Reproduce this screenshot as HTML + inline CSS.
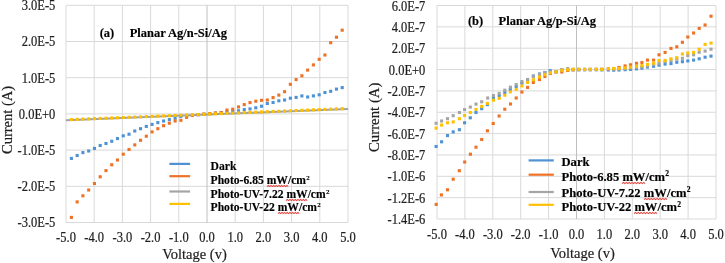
<!DOCTYPE html>
<html><head><meta charset="utf-8"><style>
html,body{margin:0;padding:0;background:#fff;}
body{width:725px;height:263px;position:relative;overflow:hidden;font-family:"Liberation Serif",serif;color:#000;filter:blur(0.3px);}
div{position:absolute;white-space:nowrap;line-height:0;}
.tk{color:#1e1e1e;-webkit-text-stroke:0.2px #1e1e1e;transform-origin:0 4.22px;transform:scaleY(1.1);}
.tk.c{transform:translateX(-50%) scaleY(1.1);}
.r{text-align:right;}
.c{transform:translateX(-50%);}
.ttl{font-weight:bold;-webkit-text-stroke:0.15px #000;}
.axt{color:#1e1e1e;-webkit-text-stroke:0.2px #1e1e1e;}
.rot{transform-origin:0 0;transform:rotate(-90deg);}
.leg{font-weight:bold;-webkit-text-stroke:0.15px #000;}
.leg sup{font-size:0.6em;vertical-align:0;position:relative;top:-0.6em;margin-left:0.3px;}
.sp{position:relative;}
.sq{position:absolute;left:0;width:100%;height:2px;top:calc(100% - 2px);overflow:visible;}
</style></head>
<body>
<svg width="725" height="263" viewBox="0 0 725 263" style="position:absolute;left:0;top:0"><line x1="66" y1="5.30" x2="348" y2="5.30" stroke="#D9D9D9" stroke-width="1"/><line x1="66" y1="41.50" x2="348" y2="41.50" stroke="#D9D9D9" stroke-width="1"/><line x1="66" y1="77.70" x2="348" y2="77.70" stroke="#D9D9D9" stroke-width="1"/><line x1="66" y1="113.90" x2="348" y2="113.90" stroke="#D9D9D9" stroke-width="1"/><line x1="66" y1="150.10" x2="348" y2="150.10" stroke="#D9D9D9" stroke-width="1"/><line x1="66" y1="186.30" x2="348" y2="186.30" stroke="#D9D9D9" stroke-width="1"/><line x1="66" y1="222.50" x2="348" y2="222.50" stroke="#D9D9D9" stroke-width="1"/><line x1="66.00" y1="5.3" x2="66.00" y2="222.5" stroke="#D9D9D9" stroke-width="1"/><line x1="94.20" y1="5.3" x2="94.20" y2="222.5" stroke="#D9D9D9" stroke-width="1"/><line x1="122.40" y1="5.3" x2="122.40" y2="222.5" stroke="#D9D9D9" stroke-width="1"/><line x1="150.60" y1="5.3" x2="150.60" y2="222.5" stroke="#D9D9D9" stroke-width="1"/><line x1="178.80" y1="5.3" x2="178.80" y2="222.5" stroke="#D9D9D9" stroke-width="1"/><line x1="207.00" y1="5.3" x2="207.00" y2="222.5" stroke="#BFBFBF" stroke-width="1"/><line x1="235.20" y1="5.3" x2="235.20" y2="222.5" stroke="#D9D9D9" stroke-width="1"/><line x1="263.40" y1="5.3" x2="263.40" y2="222.5" stroke="#D9D9D9" stroke-width="1"/><line x1="291.60" y1="5.3" x2="291.60" y2="222.5" stroke="#D9D9D9" stroke-width="1"/><line x1="319.80" y1="5.3" x2="319.80" y2="222.5" stroke="#D9D9D9" stroke-width="1"/><line x1="348.00" y1="5.3" x2="348.00" y2="222.5" stroke="#D9D9D9" stroke-width="1"/><line x1="437" y1="5.50" x2="716" y2="5.50" stroke="#D9D9D9" stroke-width="1"/><line x1="437" y1="26.85" x2="716" y2="26.85" stroke="#D9D9D9" stroke-width="1"/><line x1="437" y1="48.20" x2="716" y2="48.20" stroke="#D9D9D9" stroke-width="1"/><line x1="437" y1="69.55" x2="716" y2="69.55" stroke="#D9D9D9" stroke-width="1"/><line x1="437" y1="90.90" x2="716" y2="90.90" stroke="#D9D9D9" stroke-width="1"/><line x1="437" y1="112.25" x2="716" y2="112.25" stroke="#D9D9D9" stroke-width="1"/><line x1="437" y1="133.60" x2="716" y2="133.60" stroke="#D9D9D9" stroke-width="1"/><line x1="437" y1="154.95" x2="716" y2="154.95" stroke="#D9D9D9" stroke-width="1"/><line x1="437" y1="176.30" x2="716" y2="176.30" stroke="#D9D9D9" stroke-width="1"/><line x1="437" y1="197.65" x2="716" y2="197.65" stroke="#D9D9D9" stroke-width="1"/><line x1="437" y1="219.00" x2="716" y2="219.00" stroke="#D9D9D9" stroke-width="1"/><line x1="437.00" y1="5.5" x2="437.00" y2="219" stroke="#D9D9D9" stroke-width="1"/><line x1="464.90" y1="5.5" x2="464.90" y2="219" stroke="#D9D9D9" stroke-width="1"/><line x1="492.80" y1="5.5" x2="492.80" y2="219" stroke="#D9D9D9" stroke-width="1"/><line x1="520.70" y1="5.5" x2="520.70" y2="219" stroke="#D9D9D9" stroke-width="1"/><line x1="548.60" y1="5.5" x2="548.60" y2="219" stroke="#D9D9D9" stroke-width="1"/><line x1="576.50" y1="5.5" x2="576.50" y2="219" stroke="#BFBFBF" stroke-width="1"/><line x1="604.40" y1="5.5" x2="604.40" y2="219" stroke="#D9D9D9" stroke-width="1"/><line x1="632.30" y1="5.5" x2="632.30" y2="219" stroke="#D9D9D9" stroke-width="1"/><line x1="660.20" y1="5.5" x2="660.20" y2="219" stroke="#D9D9D9" stroke-width="1"/><line x1="688.10" y1="5.5" x2="688.10" y2="219" stroke="#D9D9D9" stroke-width="1"/><line x1="716.00" y1="5.5" x2="716.00" y2="219" stroke="#D9D9D9" stroke-width="1"/><line x1="66" y1="120.3" x2="348" y2="108.9" stroke="#9EA2A8" stroke-width="2"/><g fill="#4E92D3"><rect x="69.85" y="156.85" width="3.1" height="3.1"/><rect x="75.61" y="153.95" width="3.1" height="3.1"/><rect x="81.37" y="151.05" width="3.1" height="3.1"/><rect x="87.14" y="149.45" width="3.1" height="3.1"/><rect x="92.90" y="146.85" width="3.1" height="3.1"/><rect x="98.66" y="143.95" width="3.1" height="3.1"/><rect x="104.42" y="141.95" width="3.1" height="3.1"/><rect x="110.18" y="139.75" width="3.1" height="3.1"/><rect x="115.95" y="137.00" width="3.1" height="3.1"/><rect x="121.71" y="134.25" width="3.1" height="3.1"/><rect x="127.47" y="132.65" width="3.1" height="3.1"/><rect x="133.23" y="129.45" width="3.1" height="3.1"/><rect x="138.99" y="127.15" width="3.1" height="3.1"/><rect x="144.76" y="124.85" width="3.1" height="3.1"/><rect x="150.52" y="122.85" width="3.1" height="3.1"/><rect x="156.28" y="121.05" width="3.1" height="3.1"/><rect x="162.04" y="119.45" width="3.1" height="3.1"/><rect x="167.80" y="118.05" width="3.1" height="3.1"/><rect x="173.57" y="116.65" width="3.1" height="3.1"/><rect x="179.33" y="114.85" width="3.1" height="3.1"/><rect x="185.09" y="114.35" width="3.1" height="3.1"/><rect x="190.85" y="113.78" width="3.1" height="3.1"/><rect x="196.61" y="113.22" width="3.1" height="3.1"/><rect x="202.38" y="112.65" width="3.1" height="3.1"/><rect x="208.14" y="112.08" width="3.1" height="3.1"/><rect x="213.90" y="111.52" width="3.1" height="3.1"/><rect x="219.66" y="110.95" width="3.1" height="3.1"/><rect x="225.42" y="110.38" width="3.1" height="3.1"/><rect x="231.19" y="109.82" width="3.1" height="3.1"/><rect x="236.95" y="109.25" width="3.1" height="3.1"/><rect x="242.71" y="108.05" width="3.1" height="3.1"/><rect x="248.47" y="107.35" width="3.1" height="3.1"/><rect x="254.23" y="106.25" width="3.1" height="3.1"/><rect x="260.00" y="104.65" width="3.1" height="3.1"/><rect x="265.76" y="101.95" width="3.1" height="3.1"/><rect x="271.52" y="100.95" width="3.1" height="3.1"/><rect x="277.28" y="99.25" width="3.1" height="3.1"/><rect x="283.04" y="98.45" width="3.1" height="3.1"/><rect x="288.81" y="96.65" width="3.1" height="3.1"/><rect x="294.57" y="95.85" width="3.1" height="3.1"/><rect x="300.33" y="94.35" width="3.1" height="3.1"/><rect x="306.09" y="95.45" width="3.1" height="3.1"/><rect x="311.85" y="94.35" width="3.1" height="3.1"/><rect x="317.62" y="93.25" width="3.1" height="3.1"/><rect x="323.38" y="90.95" width="3.1" height="3.1"/><rect x="329.14" y="89.75" width="3.1" height="3.1"/><rect x="334.90" y="87.55" width="3.1" height="3.1"/><rect x="340.66" y="86.05" width="3.1" height="3.1"/></g><g fill="#EE7225"><rect x="69.85" y="215.85" width="3.1" height="3.1"/><rect x="75.61" y="200.35" width="3.1" height="3.1"/><rect x="81.37" y="194.25" width="3.1" height="3.1"/><rect x="87.14" y="188.45" width="3.1" height="3.1"/><rect x="92.90" y="181.95" width="3.1" height="3.1"/><rect x="98.66" y="175.25" width="3.1" height="3.1"/><rect x="104.42" y="169.05" width="3.1" height="3.1"/><rect x="110.18" y="163.25" width="3.1" height="3.1"/><rect x="115.95" y="158.45" width="3.1" height="3.1"/><rect x="121.71" y="152.65" width="3.1" height="3.1"/><rect x="127.47" y="147.95" width="3.1" height="3.1"/><rect x="133.23" y="143.35" width="3.1" height="3.1"/><rect x="138.99" y="138.75" width="3.1" height="3.1"/><rect x="144.76" y="134.65" width="3.1" height="3.1"/><rect x="150.52" y="130.35" width="3.1" height="3.1"/><rect x="156.28" y="127.15" width="3.1" height="3.1"/><rect x="162.04" y="124.15" width="3.1" height="3.1"/><rect x="167.80" y="121.65" width="3.1" height="3.1"/><rect x="173.57" y="119.45" width="3.1" height="3.1"/><rect x="179.33" y="118.75" width="3.1" height="3.1"/><rect x="185.09" y="115.75" width="3.1" height="3.1"/><rect x="190.85" y="113.95" width="3.1" height="3.1"/><rect x="196.61" y="113.05" width="3.1" height="3.1"/><rect x="202.38" y="112.55" width="3.1" height="3.1"/><rect x="208.14" y="112.05" width="3.1" height="3.1"/><rect x="213.90" y="111.45" width="3.1" height="3.1"/><rect x="219.66" y="111.05" width="3.1" height="3.1"/><rect x="225.42" y="108.45" width="3.1" height="3.1"/><rect x="231.19" y="107.65" width="3.1" height="3.1"/><rect x="236.95" y="105.35" width="3.1" height="3.1"/><rect x="242.71" y="103.05" width="3.1" height="3.1"/><rect x="248.47" y="101.05" width="3.1" height="3.1"/><rect x="254.23" y="99.65" width="3.1" height="3.1"/><rect x="260.00" y="98.75" width="3.1" height="3.1"/><rect x="265.76" y="98.45" width="3.1" height="3.1"/><rect x="271.52" y="96.05" width="3.1" height="3.1"/><rect x="277.28" y="93.55" width="3.1" height="3.1"/><rect x="283.04" y="90.15" width="3.1" height="3.1"/><rect x="288.81" y="82.75" width="3.1" height="3.1"/><rect x="294.57" y="78.05" width="3.1" height="3.1"/><rect x="300.33" y="74.25" width="3.1" height="3.1"/><rect x="306.09" y="68.55" width="3.1" height="3.1"/><rect x="311.85" y="63.35" width="3.1" height="3.1"/><rect x="317.62" y="57.75" width="3.1" height="3.1"/><rect x="323.38" y="53.45" width="3.1" height="3.1"/><rect x="329.14" y="41.15" width="3.1" height="3.1"/><rect x="334.90" y="35.65" width="3.1" height="3.1"/><rect x="340.66" y="28.65" width="3.1" height="3.1"/></g><g fill="#FFC000"><rect x="69.85" y="118.05" width="3.1" height="3.1"/><rect x="75.61" y="117.82" width="3.1" height="3.1"/><rect x="81.37" y="117.59" width="3.1" height="3.1"/><rect x="87.14" y="117.35" width="3.1" height="3.1"/><rect x="92.90" y="117.12" width="3.1" height="3.1"/><rect x="98.66" y="116.89" width="3.1" height="3.1"/><rect x="104.42" y="116.66" width="3.1" height="3.1"/><rect x="110.18" y="116.43" width="3.1" height="3.1"/><rect x="115.95" y="116.19" width="3.1" height="3.1"/><rect x="121.71" y="115.96" width="3.1" height="3.1"/><rect x="127.47" y="115.73" width="3.1" height="3.1"/><rect x="133.23" y="115.50" width="3.1" height="3.1"/><rect x="138.99" y="115.27" width="3.1" height="3.1"/><rect x="144.76" y="115.04" width="3.1" height="3.1"/><rect x="150.52" y="114.80" width="3.1" height="3.1"/><rect x="156.28" y="114.57" width="3.1" height="3.1"/><rect x="162.04" y="114.34" width="3.1" height="3.1"/><rect x="167.80" y="114.11" width="3.1" height="3.1"/><rect x="173.57" y="113.88" width="3.1" height="3.1"/><rect x="179.33" y="113.64" width="3.1" height="3.1"/><rect x="185.09" y="113.41" width="3.1" height="3.1"/><rect x="190.85" y="113.18" width="3.1" height="3.1"/><rect x="196.61" y="112.95" width="3.1" height="3.1"/><rect x="202.38" y="112.72" width="3.1" height="3.1"/><rect x="208.14" y="112.48" width="3.1" height="3.1"/><rect x="213.90" y="112.25" width="3.1" height="3.1"/><rect x="219.66" y="112.02" width="3.1" height="3.1"/><rect x="225.42" y="111.79" width="3.1" height="3.1"/><rect x="231.19" y="111.56" width="3.1" height="3.1"/><rect x="236.95" y="111.32" width="3.1" height="3.1"/><rect x="242.71" y="111.09" width="3.1" height="3.1"/><rect x="248.47" y="110.86" width="3.1" height="3.1"/><rect x="254.23" y="110.63" width="3.1" height="3.1"/><rect x="260.00" y="110.40" width="3.1" height="3.1"/><rect x="265.76" y="110.16" width="3.1" height="3.1"/><rect x="271.52" y="109.93" width="3.1" height="3.1"/><rect x="277.28" y="109.70" width="3.1" height="3.1"/><rect x="283.04" y="109.47" width="3.1" height="3.1"/><rect x="288.81" y="109.24" width="3.1" height="3.1"/><rect x="294.57" y="109.01" width="3.1" height="3.1"/><rect x="300.33" y="108.77" width="3.1" height="3.1"/><rect x="306.09" y="108.54" width="3.1" height="3.1"/><rect x="311.85" y="108.31" width="3.1" height="3.1"/><rect x="317.62" y="108.08" width="3.1" height="3.1"/><rect x="323.38" y="107.85" width="3.1" height="3.1"/><rect x="329.14" y="107.61" width="3.1" height="3.1"/><rect x="334.90" y="107.38" width="3.1" height="3.1"/><rect x="340.66" y="107.15" width="3.1" height="3.1"/></g><g fill="#4E92D3"><rect x="434.55" y="144.95" width="3.1" height="3.1"/><rect x="440.05" y="140.25" width="3.1" height="3.1"/><rect x="445.95" y="134.05" width="3.1" height="3.1"/><rect x="451.65" y="130.35" width="3.1" height="3.1"/><rect x="457.85" y="128.15" width="3.1" height="3.1"/><rect x="463.05" y="121.25" width="3.1" height="3.1"/><rect x="468.75" y="116.25" width="3.1" height="3.1"/><rect x="474.45" y="110.95" width="3.1" height="3.1"/><rect x="480.15" y="107.15" width="3.1" height="3.1"/><rect x="485.85" y="103.05" width="3.1" height="3.1"/><rect x="491.85" y="96.75" width="3.1" height="3.1"/><rect x="497.65" y="94.15" width="3.1" height="3.1"/><rect x="503.25" y="90.95" width="3.1" height="3.1"/><rect x="508.75" y="87.85" width="3.1" height="3.1"/><rect x="514.65" y="84.95" width="3.1" height="3.1"/><rect x="520.35" y="81.45" width="3.1" height="3.1"/><rect x="526.05" y="78.45" width="3.1" height="3.1"/><rect x="531.85" y="74.45" width="3.1" height="3.1"/><rect x="537.95" y="72.45" width="3.1" height="3.1"/><rect x="543.35" y="70.95" width="3.1" height="3.1"/><rect x="548.65" y="69.05" width="3.1" height="3.1"/><rect x="554.45" y="70.25" width="3.1" height="3.1"/><rect x="560.25" y="68.25" width="3.1" height="3.1"/><rect x="566.15" y="68.25" width="3.1" height="3.1"/><rect x="571.65" y="68.25" width="3.1" height="3.1"/><rect x="577.25" y="68.25" width="3.1" height="3.1"/><rect x="583.05" y="68.25" width="3.1" height="3.1"/><rect x="588.75" y="68.25" width="3.1" height="3.1"/><rect x="594.75" y="68.25" width="3.1" height="3.1"/><rect x="600.25" y="68.35" width="3.1" height="3.1"/><rect x="606.85" y="68.45" width="3.1" height="3.1"/><rect x="612.15" y="68.65" width="3.1" height="3.1"/><rect x="617.45" y="68.45" width="3.1" height="3.1"/><rect x="623.55" y="68.15" width="3.1" height="3.1"/><rect x="628.95" y="67.85" width="3.1" height="3.1"/><rect x="634.95" y="67.35" width="3.1" height="3.1"/><rect x="640.35" y="66.65" width="3.1" height="3.1"/><rect x="645.95" y="65.55" width="3.1" height="3.1"/><rect x="652.05" y="64.75" width="3.1" height="3.1"/><rect x="657.45" y="63.65" width="3.1" height="3.1"/><rect x="663.55" y="62.55" width="3.1" height="3.1"/><rect x="669.45" y="62.05" width="3.1" height="3.1"/><rect x="675.25" y="60.75" width="3.1" height="3.1"/><rect x="680.85" y="60.15" width="3.1" height="3.1"/><rect x="686.25" y="59.35" width="3.1" height="3.1"/><rect x="692.05" y="58.55" width="3.1" height="3.1"/><rect x="697.65" y="57.25" width="3.1" height="3.1"/><rect x="703.55" y="55.65" width="3.1" height="3.1"/><rect x="709.45" y="54.55" width="3.1" height="3.1"/></g><g fill="#EE7225"><rect x="434.65" y="202.85" width="3.1" height="3.1"/><rect x="439.85" y="193.35" width="3.1" height="3.1"/><rect x="445.95" y="188.25" width="3.1" height="3.1"/><rect x="451.65" y="177.65" width="3.1" height="3.1"/><rect x="457.75" y="169.15" width="3.1" height="3.1"/><rect x="463.15" y="160.45" width="3.1" height="3.1"/><rect x="468.85" y="152.65" width="3.1" height="3.1"/><rect x="474.45" y="145.65" width="3.1" height="3.1"/><rect x="480.15" y="137.95" width="3.1" height="3.1"/><rect x="485.85" y="129.25" width="3.1" height="3.1"/><rect x="491.65" y="121.95" width="3.1" height="3.1"/><rect x="497.55" y="114.45" width="3.1" height="3.1"/><rect x="503.25" y="107.65" width="3.1" height="3.1"/><rect x="508.95" y="102.45" width="3.1" height="3.1"/><rect x="514.65" y="96.45" width="3.1" height="3.1"/><rect x="520.35" y="90.45" width="3.1" height="3.1"/><rect x="526.05" y="85.85" width="3.1" height="3.1"/><rect x="531.75" y="80.95" width="3.1" height="3.1"/><rect x="537.95" y="78.05" width="3.1" height="3.1"/><rect x="543.35" y="74.95" width="3.1" height="3.1"/><rect x="548.85" y="71.95" width="3.1" height="3.1"/><rect x="554.45" y="70.45" width="3.1" height="3.1"/><rect x="560.25" y="70.45" width="3.1" height="3.1"/><rect x="566.15" y="68.95" width="3.1" height="3.1"/><rect x="571.65" y="68.25" width="3.1" height="3.1"/><rect x="577.25" y="68.05" width="3.1" height="3.1"/><rect x="583.05" y="67.95" width="3.1" height="3.1"/><rect x="588.75" y="67.95" width="3.1" height="3.1"/><rect x="594.75" y="67.85" width="3.1" height="3.1"/><rect x="600.25" y="67.75" width="3.1" height="3.1"/><rect x="606.85" y="67.45" width="3.1" height="3.1"/><rect x="612.15" y="66.95" width="3.1" height="3.1"/><rect x="617.45" y="65.85" width="3.1" height="3.1"/><rect x="623.55" y="64.35" width="3.1" height="3.1"/><rect x="628.95" y="63.25" width="3.1" height="3.1"/><rect x="634.95" y="61.75" width="3.1" height="3.1"/><rect x="640.35" y="60.95" width="3.1" height="3.1"/><rect x="645.95" y="58.55" width="3.1" height="3.1"/><rect x="652.05" y="58.55" width="3.1" height="3.1"/><rect x="657.45" y="53.25" width="3.1" height="3.1"/><rect x="663.55" y="50.85" width="3.1" height="3.1"/><rect x="669.45" y="46.85" width="3.1" height="3.1"/><rect x="675.25" y="45.25" width="3.1" height="3.1"/><rect x="680.85" y="40.75" width="3.1" height="3.1"/><rect x="686.25" y="35.45" width="3.1" height="3.1"/><rect x="692.05" y="31.45" width="3.1" height="3.1"/><rect x="697.65" y="26.85" width="3.1" height="3.1"/><rect x="703.55" y="23.45" width="3.1" height="3.1"/><rect x="709.45" y="14.65" width="3.1" height="3.1"/></g><g fill="#A5A5A5"><rect x="434.55" y="121.75" width="3.1" height="3.1"/><rect x="440.05" y="119.45" width="3.1" height="3.1"/><rect x="445.95" y="117.15" width="3.1" height="3.1"/><rect x="451.65" y="114.15" width="3.1" height="3.1"/><rect x="457.85" y="110.95" width="3.1" height="3.1"/><rect x="463.05" y="108.05" width="3.1" height="3.1"/><rect x="468.75" y="105.55" width="3.1" height="3.1"/><rect x="474.45" y="102.55" width="3.1" height="3.1"/><rect x="480.15" y="100.25" width="3.1" height="3.1"/><rect x="486.15" y="96.45" width="3.1" height="3.1"/><rect x="491.85" y="93.95" width="3.1" height="3.1"/><rect x="497.65" y="91.85" width="3.1" height="3.1"/><rect x="503.25" y="88.65" width="3.1" height="3.1"/><rect x="508.85" y="85.65" width="3.1" height="3.1"/><rect x="514.65" y="83.05" width="3.1" height="3.1"/><rect x="520.35" y="80.05" width="3.1" height="3.1"/><rect x="526.05" y="77.95" width="3.1" height="3.1"/><rect x="531.75" y="74.85" width="3.1" height="3.1"/><rect x="537.95" y="72.75" width="3.1" height="3.1"/><rect x="543.35" y="71.15" width="3.1" height="3.1"/><rect x="548.85" y="70.45" width="3.1" height="3.1"/><rect x="554.45" y="70.05" width="3.1" height="3.1"/><rect x="560.25" y="67.95" width="3.1" height="3.1"/><rect x="566.15" y="67.05" width="3.1" height="3.1"/><rect x="571.65" y="67.75" width="3.1" height="3.1"/><rect x="577.25" y="67.75" width="3.1" height="3.1"/><rect x="583.05" y="67.75" width="3.1" height="3.1"/><rect x="588.75" y="67.75" width="3.1" height="3.1"/><rect x="594.75" y="67.75" width="3.1" height="3.1"/><rect x="600.25" y="67.85" width="3.1" height="3.1"/><rect x="606.85" y="67.45" width="3.1" height="3.1"/><rect x="612.15" y="67.45" width="3.1" height="3.1"/><rect x="617.45" y="67.25" width="3.1" height="3.1"/><rect x="623.55" y="66.95" width="3.1" height="3.1"/><rect x="628.95" y="66.45" width="3.1" height="3.1"/><rect x="634.95" y="65.95" width="3.1" height="3.1"/><rect x="640.35" y="65.45" width="3.1" height="3.1"/><rect x="645.95" y="64.45" width="3.1" height="3.1"/><rect x="652.05" y="62.95" width="3.1" height="3.1"/><rect x="657.45" y="62.05" width="3.1" height="3.1"/><rect x="663.55" y="60.15" width="3.1" height="3.1"/><rect x="669.45" y="58.95" width="3.1" height="3.1"/><rect x="675.25" y="57.55" width="3.1" height="3.1"/><rect x="680.85" y="56.75" width="3.1" height="3.1"/><rect x="686.25" y="54.05" width="3.1" height="3.1"/><rect x="692.05" y="53.25" width="3.1" height="3.1"/><rect x="697.65" y="50.65" width="3.1" height="3.1"/><rect x="703.55" y="49.55" width="3.1" height="3.1"/><rect x="709.45" y="47.65" width="3.1" height="3.1"/></g><g fill="#FFC000"><rect x="434.55" y="126.55" width="3.1" height="3.1"/><rect x="440.05" y="123.55" width="3.1" height="3.1"/><rect x="445.95" y="121.25" width="3.1" height="3.1"/><rect x="451.65" y="120.35" width="3.1" height="3.1"/><rect x="457.85" y="117.15" width="3.1" height="3.1"/><rect x="463.05" y="113.95" width="3.1" height="3.1"/><rect x="468.75" y="110.95" width="3.1" height="3.1"/><rect x="474.45" y="107.85" width="3.1" height="3.1"/><rect x="480.15" y="104.85" width="3.1" height="3.1"/><rect x="485.85" y="101.85" width="3.1" height="3.1"/><rect x="491.85" y="98.65" width="3.1" height="3.1"/><rect x="497.65" y="96.75" width="3.1" height="3.1"/><rect x="503.25" y="93.65" width="3.1" height="3.1"/><rect x="508.75" y="90.35" width="3.1" height="3.1"/><rect x="514.65" y="87.85" width="3.1" height="3.1"/><rect x="520.35" y="84.35" width="3.1" height="3.1"/><rect x="526.05" y="80.95" width="3.1" height="3.1"/><rect x="531.85" y="78.25" width="3.1" height="3.1"/><rect x="537.95" y="75.45" width="3.1" height="3.1"/><rect x="543.25" y="73.05" width="3.1" height="3.1"/><rect x="548.85" y="71.25" width="3.1" height="3.1"/><rect x="554.45" y="70.25" width="3.1" height="3.1"/><rect x="560.25" y="68.75" width="3.1" height="3.1"/><rect x="566.15" y="68.25" width="3.1" height="3.1"/><rect x="571.65" y="67.75" width="3.1" height="3.1"/><rect x="577.25" y="67.75" width="3.1" height="3.1"/><rect x="583.05" y="67.75" width="3.1" height="3.1"/><rect x="588.75" y="67.75" width="3.1" height="3.1"/><rect x="594.75" y="67.75" width="3.1" height="3.1"/><rect x="600.25" y="67.85" width="3.1" height="3.1"/><rect x="606.85" y="66.95" width="3.1" height="3.1"/><rect x="612.15" y="67.05" width="3.1" height="3.1"/><rect x="617.45" y="66.95" width="3.1" height="3.1"/><rect x="623.55" y="66.35" width="3.1" height="3.1"/><rect x="628.95" y="65.55" width="3.1" height="3.1"/><rect x="634.95" y="64.65" width="3.1" height="3.1"/><rect x="640.35" y="64.05" width="3.1" height="3.1"/><rect x="645.95" y="62.85" width="3.1" height="3.1"/><rect x="652.05" y="61.55" width="3.1" height="3.1"/><rect x="657.45" y="58.95" width="3.1" height="3.1"/><rect x="663.55" y="58.85" width="3.1" height="3.1"/><rect x="669.45" y="57.25" width="3.1" height="3.1"/><rect x="675.25" y="56.15" width="3.1" height="3.1"/><rect x="680.85" y="52.45" width="3.1" height="3.1"/><rect x="686.25" y="51.45" width="3.1" height="3.1"/><rect x="692.05" y="50.85" width="3.1" height="3.1"/><rect x="697.65" y="47.65" width="3.1" height="3.1"/><rect x="703.55" y="42.85" width="3.1" height="3.1"/><rect x="709.45" y="41.55" width="3.1" height="3.1"/></g><line x1="169.4" y1="163.9" x2="190.1" y2="163.9" stroke="#4E92D3" stroke-width="2.2"/><line x1="169.4" y1="176.2" x2="190.1" y2="176.2" stroke="#EE7225" stroke-width="2.2"/><line x1="169.4" y1="191.5" x2="190.1" y2="191.5" stroke="#A5A5A5" stroke-width="2.2"/><line x1="169.4" y1="203.9" x2="190.1" y2="203.9" stroke="#FFC000" stroke-width="2.2"/><line x1="528.6" y1="160.4" x2="553.8" y2="160.4" stroke="#4E92D3" stroke-width="2.2"/><line x1="528.6" y1="174.7" x2="553.8" y2="174.7" stroke="#EE7225" stroke-width="2.2"/><line x1="528.6" y1="192" x2="553.8" y2="192" stroke="#A5A5A5" stroke-width="2.2"/><line x1="528.6" y1="204.8" x2="553.8" y2="204.8" stroke="#FFC000" stroke-width="2.2"/></svg>
<div class="tk r" style="right:669.70px;top:6.18px;font-size:12.5px;">3.0E-5</div><div class="tk r" style="right:669.70px;top:42.38px;font-size:12.5px;">2.0E-5</div><div class="tk r" style="right:669.70px;top:78.58px;font-size:12.5px;">1.0E-5</div><div class="tk r" style="right:669.70px;top:114.78px;font-size:12.5px;">0.0E+0</div><div class="tk r" style="right:669.70px;top:150.98px;font-size:12.5px;">-1.0E-5</div><div class="tk r" style="right:669.70px;top:187.18px;font-size:12.5px;">-2.0E-5</div><div class="tk r" style="right:669.70px;top:223.38px;font-size:12.5px;">-3.0E-5</div><div class="tk r" style="right:299.70px;top:6.68px;font-size:12.5px;">6.0E-7</div><div class="tk r" style="right:299.70px;top:28.03px;font-size:12.5px;">4.0E-7</div><div class="tk r" style="right:299.70px;top:49.38px;font-size:12.5px;">2.0E-7</div><div class="tk r" style="right:299.70px;top:70.73px;font-size:12.5px;">0.0E+0</div><div class="tk r" style="right:299.70px;top:92.08px;font-size:12.5px;">-2.0E-7</div><div class="tk r" style="right:299.70px;top:113.43px;font-size:12.5px;">-4.0E-7</div><div class="tk r" style="right:299.70px;top:134.78px;font-size:12.5px;">-6.0E-7</div><div class="tk r" style="right:299.70px;top:156.13px;font-size:12.5px;">-8.0E-7</div><div class="tk r" style="right:299.70px;top:177.48px;font-size:12.5px;">-1.0E-6</div><div class="tk r" style="right:299.70px;top:198.83px;font-size:12.5px;">-1.2E-6</div><div class="tk r" style="right:299.70px;top:220.18px;font-size:12.5px;">-1.4E-6</div><div class="tk c" style="left:66.00px;top:237.78px;font-size:12.5px;">-5.0</div><div class="tk c" style="left:437.00px;top:234.68px;font-size:12.5px;">-5.0</div><div class="tk c" style="left:94.20px;top:237.78px;font-size:12.5px;">-4.0</div><div class="tk c" style="left:464.90px;top:234.68px;font-size:12.5px;">-4.0</div><div class="tk c" style="left:122.40px;top:237.78px;font-size:12.5px;">-3.0</div><div class="tk c" style="left:492.80px;top:234.68px;font-size:12.5px;">-3.0</div><div class="tk c" style="left:150.60px;top:237.78px;font-size:12.5px;">-2.0</div><div class="tk c" style="left:520.70px;top:234.68px;font-size:12.5px;">-2.0</div><div class="tk c" style="left:178.80px;top:237.78px;font-size:12.5px;">-1.0</div><div class="tk c" style="left:548.60px;top:234.68px;font-size:12.5px;">-1.0</div><div class="tk c" style="left:207.00px;top:237.78px;font-size:12.5px;">0.0</div><div class="tk c" style="left:576.50px;top:234.68px;font-size:12.5px;">0.0</div><div class="tk c" style="left:235.20px;top:237.78px;font-size:12.5px;">1.0</div><div class="tk c" style="left:604.40px;top:234.68px;font-size:12.5px;">1.0</div><div class="tk c" style="left:263.40px;top:237.78px;font-size:12.5px;">2.0</div><div class="tk c" style="left:632.30px;top:234.68px;font-size:12.5px;">2.0</div><div class="tk c" style="left:291.60px;top:237.78px;font-size:12.5px;">3.0</div><div class="tk c" style="left:660.20px;top:234.68px;font-size:12.5px;">3.0</div><div class="tk c" style="left:319.80px;top:237.78px;font-size:12.5px;">4.0</div><div class="tk c" style="left:688.10px;top:234.68px;font-size:12.5px;">4.0</div><div class="tk c" style="left:348.00px;top:237.78px;font-size:12.5px;">5.0</div><div class="tk c" style="left:716.00px;top:234.68px;font-size:12.5px;">5.0</div><div class="leg" style="left:210.60px;top:166.99px;font-size:11.6px;">Dark</div><div class="leg" style="left:210.60px;top:180.78px;font-size:11.6px;">Photo-6.85 <span class="sp">mW<svg class="sq" viewBox="0 0 24 2" preserveAspectRatio="none"><path d="M0 1.6 L1.5 0.4 L3.0 1.6 L4.5 0.4 L6.0 1.6 L7.5 0.4 L9.0 1.6 L10.5 0.4 L12.0 1.6 L13.5 0.4 L15.0 1.6 L16.5 0.4 L18.0 1.6 L19.5 0.4 L21.0 1.6 L22.5 0.4 L24.0 1.6" fill="none" stroke="#e4463f" stroke-width="1.1" vector-effect="non-scaling-stroke"/></svg></span>/cm<sup>2</sup></div><div class="leg" style="left:210.60px;top:194.89px;font-size:11.6px;">Photo-UV-7.22 <span class="sp">mW<svg class="sq" viewBox="0 0 24 2" preserveAspectRatio="none"><path d="M0 1.6 L1.5 0.4 L3.0 1.6 L4.5 0.4 L6.0 1.6 L7.5 0.4 L9.0 1.6 L10.5 0.4 L12.0 1.6 L13.5 0.4 L15.0 1.6 L16.5 0.4 L18.0 1.6 L19.5 0.4 L21.0 1.6 L22.5 0.4 L24.0 1.6" fill="none" stroke="#e4463f" stroke-width="1.1" vector-effect="non-scaling-stroke"/></svg></span>/cm<sup>2</sup></div><div class="leg" style="left:210.60px;top:207.99px;font-size:11.6px;">Photo-UV-22 <span class="sp">mW<svg class="sq" viewBox="0 0 24 2" preserveAspectRatio="none"><path d="M0 1.6 L1.5 0.4 L3.0 1.6 L4.5 0.4 L6.0 1.6 L7.5 0.4 L9.0 1.6 L10.5 0.4 L12.0 1.6 L13.5 0.4 L15.0 1.6 L16.5 0.4 L18.0 1.6 L19.5 0.4 L21.0 1.6 L22.5 0.4 L24.0 1.6" fill="none" stroke="#e4463f" stroke-width="1.1" vector-effect="non-scaling-stroke"/></svg></span>/cm<sup>2</sup></div><div class="leg" style="left:561.50px;top:162.25px;font-size:12.6px;">Dark</div><div class="leg" style="left:561.50px;top:176.75px;font-size:12.6px;">Photo-6.85 <span class="sp">mW<svg class="sq" viewBox="0 0 24 2" preserveAspectRatio="none"><path d="M0 1.6 L1.5 0.4 L3.0 1.6 L4.5 0.4 L6.0 1.6 L7.5 0.4 L9.0 1.6 L10.5 0.4 L12.0 1.6 L13.5 0.4 L15.0 1.6 L16.5 0.4 L18.0 1.6 L19.5 0.4 L21.0 1.6 L22.5 0.4 L24.0 1.6" fill="none" stroke="#e4463f" stroke-width="1.1" vector-effect="non-scaling-stroke"/></svg></span>/cm<sup>2</sup></div><div class="leg" style="left:561.50px;top:192.85px;font-size:12.6px;">Photo-UV-7.22 <span class="sp">mW<svg class="sq" viewBox="0 0 24 2" preserveAspectRatio="none"><path d="M0 1.6 L1.5 0.4 L3.0 1.6 L4.5 0.4 L6.0 1.6 L7.5 0.4 L9.0 1.6 L10.5 0.4 L12.0 1.6 L13.5 0.4 L15.0 1.6 L16.5 0.4 L18.0 1.6 L19.5 0.4 L21.0 1.6 L22.5 0.4 L24.0 1.6" fill="none" stroke="#e4463f" stroke-width="1.1" vector-effect="non-scaling-stroke"/></svg></span>/cm<sup>2</sup></div><div class="leg" style="left:561.50px;top:207.15px;font-size:12.6px;">Photo-UV-22 <span class="sp">mW<svg class="sq" viewBox="0 0 24 2" preserveAspectRatio="none"><path d="M0 1.6 L1.5 0.4 L3.0 1.6 L4.5 0.4 L6.0 1.6 L7.5 0.4 L9.0 1.6 L10.5 0.4 L12.0 1.6 L13.5 0.4 L15.0 1.6 L16.5 0.4 L18.0 1.6 L19.5 0.4 L21.0 1.6 L22.5 0.4 L24.0 1.6" fill="none" stroke="#e4463f" stroke-width="1.1" vector-effect="non-scaling-stroke"/></svg></span>/cm<sup>2</sup></div><div class="ttl" style="left:99.70px;top:32.78px;font-size:12.5px;">(a)</div><div class="ttl" style="left:129.70px;top:33.28px;font-size:12.5px;">Planar Ag/n-Si/Ag</div><div class="ttl" style="left:467.90px;top:20.68px;font-size:12.5px;">(b)</div><div class="ttl" style="left:498.60px;top:20.68px;font-size:12.5px;">Planar Ag/p-Si/Ag</div><div class="axt" style="left:162.20px;top:253.91px;font-size:14.5px;">Voltage (v)</div><div class="axt" style="left:550.20px;top:253.21px;font-size:14.5px;">Voltage (v)</div><div class="axt rot" style="left:6.91px;top:153.60px;font-size:14.5px">Current (A)</div><div class="axt rot" style="left:374.11px;top:152.30px;font-size:14.8px">Current (A)</div>

</body></html>
